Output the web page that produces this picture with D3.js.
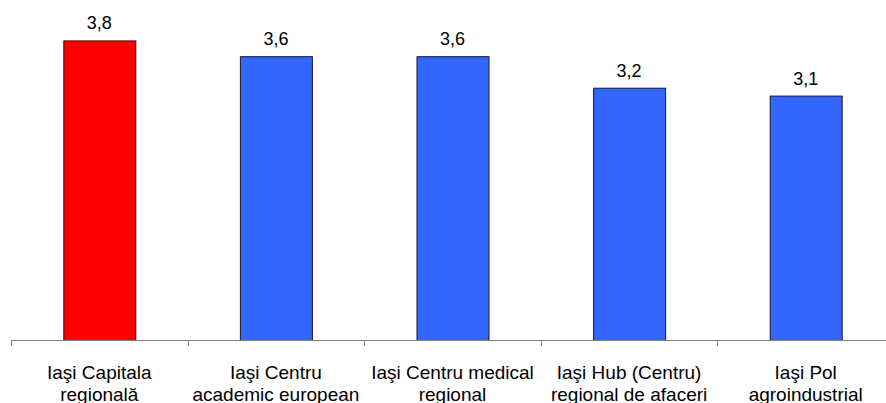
<!DOCTYPE html>
<html>
<head>
<meta charset="utf-8">
<script src="https://cdn.jsdelivr.net/npm/d3@7"></script>
<style>
  html, body { margin: 0; padding: 0; background: #fff; }
  svg { display: block; }
  text { font-family: "Liberation Sans", Arial, sans-serif; fill: #000; }
</style>
</head>
<body>
<svg id="chart" width="886" height="403"></svg>
<script>
// Category labels (two lines each)
const categories = [
  ["Iaşi Capitala", "regională"],
  ["Iaşi Centru", "academic european"],
  ["Iaşi Centru medical", "regional"],
  ["Iaşi Hub (Centru)", "regional de afaceri"],
  ["Iaşi Pol", "agroindustrial"]
];
const values = [3.8, 3.6, 3.6, 3.2, 3.1];
const valueLabels = ["3,8", "3,6", "3,6", "3,2", "3,1"];
const barColors = ["#FF0000", "#3366FF", "#3366FF", "#3366FF", "#3366FF"];

const svg = d3.select("#chart");
const W = 886;
const baseY = 340;
const left = 11, bandW = 176.6;

const x = d3.scaleBand()
  .domain(d3.range(categories.length))
  .range([left, left + bandW * categories.length])
  .paddingInner(0)
  .paddingOuter(0);

const y = d3.scaleLinear().domain([0, 4.3]).range([baseY, 1]);

const barW = 72;

// Bars
svg.append("g").selectAll("rect")
  .data(values)
  .join("rect")
  .attr("x", (d, i) => x(i) + x.bandwidth() / 2 - barW / 2 + 0.5)
  .attr("y", d => y(d) + 0.5)
  .attr("width", barW)
  .attr("height", d => baseY - y(d))
  .attr("fill", (d, i) => barColors[i])
  .attr("stroke", "#1a1a1a")
  .attr("stroke-width", 1);

// Value labels above bars
svg.append("g").selectAll("text")
  .data(values)
  .join("text")
  .attr("x", (d, i) => x(i) + x.bandwidth() / 2)
  .attr("y", d => y(d) - 11)
  .attr("text-anchor", "middle")
  .style("font-size", "18px")
  .text((d, i) => valueLabels[i]);

// Category axis: baseline and tick marks between categories
const axisG = svg.append("g");
axisG.append("line")
  .attr("x1", left + 0.5).attr("x2", W)
  .attr("y1", baseY + 0.5).attr("y2", baseY + 0.5)
  .attr("stroke", "#808080").attr("stroke-width", 1);

const tickPos = d3.range(categories.length + 1).map(i => left + i * x.bandwidth());
axisG.selectAll("line.tick")
  .data(tickPos)
  .join("line")
  .attr("class", "tick")
  .attr("x1", d => Math.round(d) + 0.5).attr("x2", d => Math.round(d) + 0.5)
  .attr("y1", baseY).attr("y2", baseY + 6)
  .attr("stroke", "#808080").attr("stroke-width", 1);

// Category labels
const labelG = svg.append("g");
categories.forEach((lines, i) => {
  const t = labelG.append("text")
    .attr("text-anchor", "middle")
    .style("font-size", "19px");
  lines.forEach((ln, j) => {
    t.append("tspan")
      .attr("x", x(i) + x.bandwidth() / 2)
      .attr("y", 379 + j * 21.5)
      .text(ln);
  });
});
</script>
</body>
</html>
